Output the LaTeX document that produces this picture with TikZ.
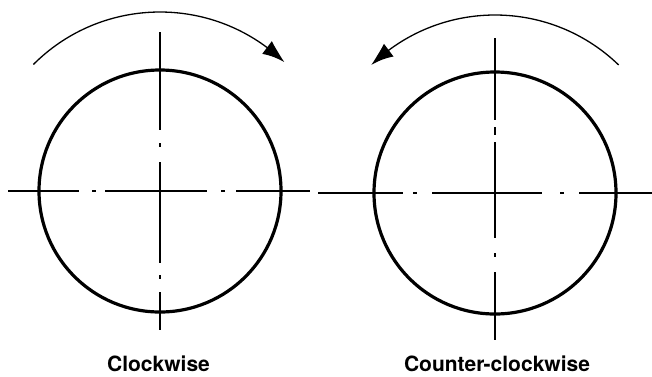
\documentclass[tikz,border=0pt]{standalone}
\usepackage{fontspec}
\newfontfamily\labelfont{TeX Gyre Heros}
\usetikzlibrary{arrows.meta, bending}

\begin{document}
\begin{tikzpicture}[x=1pt, y=-1pt,
  wheel/.style={line width=3.2pt},
  centreline/.style={line width=1.5pt},
  turn/.style={line width=1.3pt, -{Latex[length=23pt, width=16pt, bend]}},
  caption/.style={font=\labelfont\bfseries\fontsize{21}{25}\selectfont,
    anchor=base, inner sep=0pt}]

\useasboundingbox (0,0) rectangle (652,376);

% Centres of the two wheels
\coordinate (cw) at (160,191);
\coordinate (ccw) at (495,193);

% Left wheel: centre lines
\foreach \a/\b in {8/79, 92/96, 105/207, 221/225, 236/310}
  \draw[centreline] (\a,191) -- (\b,191);
\foreach \a/\b in {32/130, 143/147, 162/263, 275/279, 292/330}
  \draw[centreline] (160,\a) -- (160,\b);

% Right wheel: centre lines
\foreach \a/\b in {318/403, 413/417, 432/542, 560/564, 579/652}
  \draw[centreline] (\a,193) -- (\b,193);
\foreach \a/\b in {38/120, 127/135, 142/238, 253/257, 272/340}
  \draw[centreline] (495,\a) -- (495,\b);

% Wheels
\draw[wheel] (cw) circle[radius=121];
\draw[wheel] (ccw) circle[radius=121];

% Direction arrows
\draw[turn] ([shift={(-135:179)}]cw) arc[start angle=-135, end angle=-46, radius=179];
\draw[turn] ([shift={(-46:178)}]ccw) arc[start angle=-46, end angle=-134, radius=178];

% Captions
\node[caption] (cwtext) at (158.5,371) {Clockwise};
\node[caption] (ccwtext) at (497,371) {Counter-clockwise};

\end{tikzpicture}
\end{document}
